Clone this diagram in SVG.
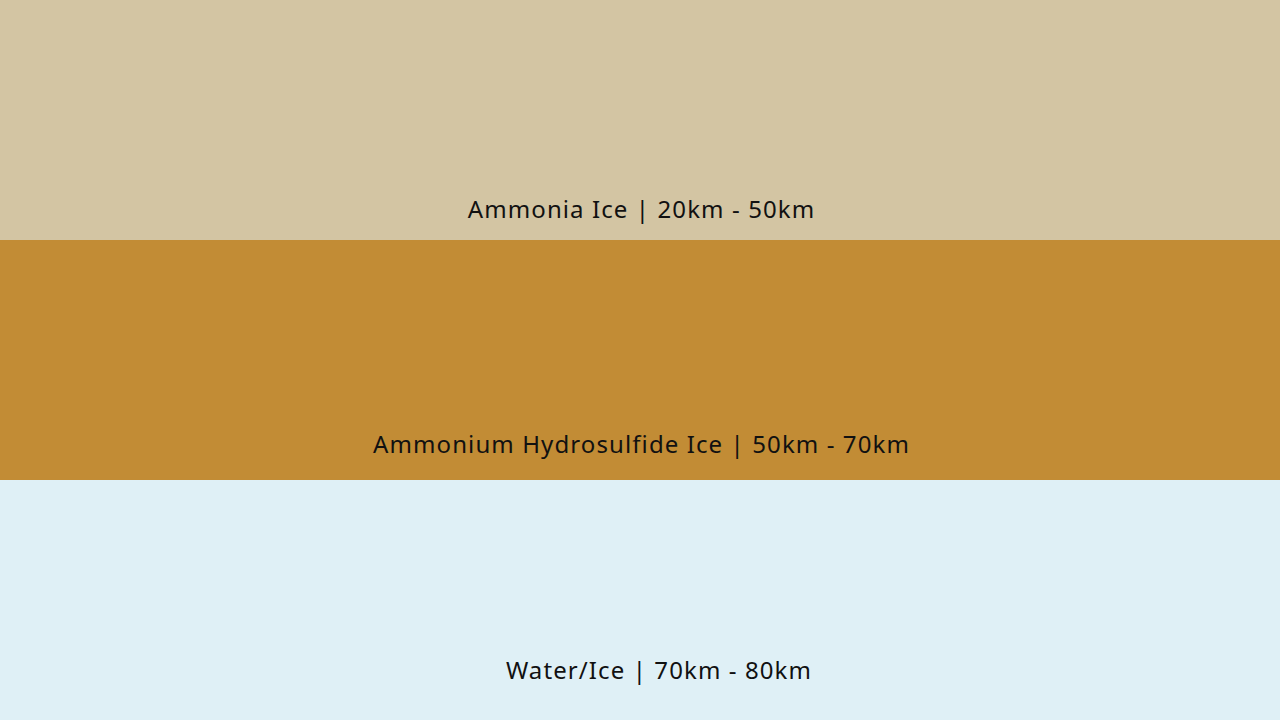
<svg xmlns="http://www.w3.org/2000/svg" width="1280" height="720" viewBox="0 0 1280 720">
<style>
.lbl{font-family:"Noto Sans",Lato,sans-serif;font-size:24px;fill:#111;text-anchor:middle;letter-spacing:1.1px}
</style>
<g id="ammonia-ice">
<rect x="0" y="0" width="1280" height="240" fill="#D3C5A3"/>
<text class="lbl" x="641.5" y="218">Ammonia Ice | 20km - 50km</text>
</g>
<g id="ammonium-hydrosulfide-ice">
<rect x="0" y="240" width="1280" height="240" fill="#C28C35"/>
<text class="lbl" x="641.5" y="453">Ammonium Hydrosulfide Ice | 50km - 70km</text>
</g>
<g id="water-ice">
<rect x="0" y="480" width="1280" height="240" fill="#DFF0F6"/>
<text class="lbl" x="659" y="679">Water/Ice | 70km - 80km</text>
</g>
<g id="connectors"/>
</svg>
